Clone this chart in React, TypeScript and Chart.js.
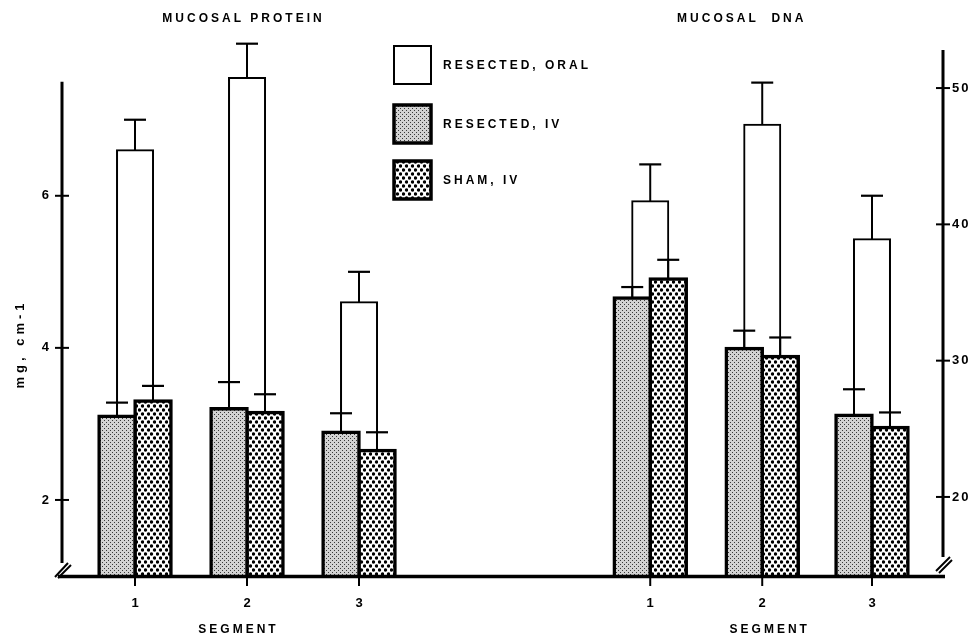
import React, { useEffect, useRef } from 'react';
import { Chart, registerables } from 'chart.js';

Chart.register(...registerables);

// ---------- data ----------
const SEGMENTS = ['1', '2', '3'];
const PROTEIN_POS = [1, 2, 3];
const DNA_POS = [5.6, 6.6, 7.58];

const SERIES_LABELS = ['RESECTED, ORAL', 'RESECTED, IV', 'SHAM, IV'];
const PANEL_TITLES = ['MUCOSAL PROTEIN', 'MUCOSAL  DNA'];
const X_TITLE = 'SEGMENT';
const Y_TITLE = 'mg, cm-1';

const PROTEIN_ORAL = [6.6, 7.55, 4.6];
const PROTEIN_ORAL_SEM = [0.4, 0.45, 0.4];
const PROTEIN_IV = [3.1, 3.2, 2.89];
const PROTEIN_IV_SEM = [0.18, 0.35, 0.25];
const PROTEIN_SHAM = [3.3, 3.15, 2.65];
const PROTEIN_SHAM_SEM = [0.2, 0.24, 0.24];

const DNA_ORAL = [41.7, 47.3, 38.9];
const DNA_ORAL_SEM = [2.7, 3.1, 3.2];
const DNA_IV = [34.6, 30.9, 26.0];
const DNA_IV_SEM = [0.8, 1.3, 1.9];
const DNA_SHAM = [36.0, 30.3, 25.1];
const DNA_SHAM_SEM = [1.4, 1.4, 1.1];

const PROTEIN_TICKS = [2, 4, 6];
const DNA_TICKS = [20, 30, 40, 50];

const PROTEIN_RANGE = [1, 8.18];
const DNA_RANGE = [14.2, 54.26];
const PROTEIN_AXIS_TOP = 7.5;
const DNA_AXIS_TOP = 52.8;

// ---------- helpers ----------
const FONT = (size: number) => `bold ${size}px "Liberation Sans", Arial, sans-serif`;

function makeFinePattern(ctx: CanvasRenderingContext2D) {
  const c = document.createElement('canvas');
  c.width = 4;
  c.height = 4;
  const g = c.getContext('2d')!;
  g.fillStyle = '#d2d2d2';
  g.fillRect(0, 0, 4, 4);
  g.fillStyle = '#383838';
  g.fillRect(0, 0, 1, 1);
  g.fillRect(2, 2, 1, 1);
  return ctx.createPattern(c, 'repeat')!;
}

function makeDotPattern(ctx: CanvasRenderingContext2D) {
  const c = document.createElement('canvas');
  c.width = 6;
  c.height = 8;
  const g = c.getContext('2d')!;
  g.fillStyle = '#ffffff';
  g.fillRect(0, 0, 6, 8);
  g.fillStyle = '#000000';
  g.beginPath();
  g.arc(1.5, 2, 1.7, 0, Math.PI * 2);
  g.fill();
  g.beginPath();
  g.arc(4.5, 6, 1.7, 0, Math.PI * 2);
  g.fill();
  return ctx.createPattern(c, 'repeat')!;
}

function drawText(
  ctx: CanvasRenderingContext2D,
  str: string,
  x: number,
  y: number,
  size: number,
  spacing: number,
  align: CanvasTextAlign
) {
  ctx.save();
  ctx.font = FONT(size);
  (ctx as any).letterSpacing = spacing + 'px';
  ctx.textAlign = align;
  ctx.textBaseline = 'middle';
  ctx.fillStyle = '#000';
  ctx.fillText(str, x + (align === 'center' ? spacing / 2 : 0), y);
  ctx.restore();
}

function line(ctx: CanvasRenderingContext2D, x1: number, y1: number, x2: number, y2: number, w: number) {
  ctx.save();
  ctx.strokeStyle = '#000';
  ctx.lineWidth = w;
  ctx.lineCap = 'butt';
  ctx.beginPath();
  ctx.moveTo(x1, y1);
  ctx.lineTo(x2, y2);
  ctx.stroke();
  ctx.restore();
}

const errorBarPlugin = {
  id: 'errorBars',
  afterDatasetsDraw(chart: any) {
    const ctx = chart.ctx as CanvasRenderingContext2D;
    chart.data.datasets.forEach((ds: any, di: number) => {
      const meta = chart.getDatasetMeta(di);
      const scale = chart.scales[ds.yAxisID];
      (ds.errors as number[]).forEach((e, i) => {
        const el = meta.data[i];
        const x = el.x;
        const yTop = el.y;
        const yCap = scale.getPixelForValue(ds.data[i].y + e);
        line(ctx, x, yTop, x, yCap, 2);
        line(ctx, x - 11, yCap, x + 11, yCap, 2.2);
      });
    });
  },
};

const decorPlugin = {
  id: 'decor',
  afterDraw(chart: any) {
    const ctx = chart.ctx as CanvasRenderingContext2D;
    const area = chart.chartArea;
    const xs = chart.scales.x;
    const yl = chart.scales.y;
    const yr = chart.scales.y2;
    const L = area.left;
    const R = area.right;
    const B = area.bottom;

    // axes
    line(ctx, L, yl.getPixelForValue(PROTEIN_AXIS_TOP), L, B - 13, 3);
    line(ctx, R, yr.getPixelForValue(DNA_AXIS_TOP), R, B - 19, 3);
    line(ctx, L - 4, B + 0.5, R + 2, B + 0.5, 3.5);
    // breaks
    line(ctx, L - 7, B + 1, L + 6, B - 13, 2);
    line(ctx, L - 4, B + 2, L + 9, B - 11, 2);
    line(ctx, R - 7, B - 5, R + 7, B - 19, 2);
    line(ctx, R - 4, B - 3, R + 9, B - 16, 2);

    // y ticks
    PROTEIN_TICKS.forEach((v) => {
      const y = yl.getPixelForValue(v);
      line(ctx, L - 7, y, L + 7, y, 2);
      drawText(ctx, String(v), L - 13, y, 13, 0, 'right');
    });
    DNA_TICKS.forEach((v) => {
      const y = yr.getPixelForValue(v);
      line(ctx, R - 7, y, R + 7, y, 2);
      drawText(ctx, String(v), R + 9, y, 13, 2, 'left');
    });

    // x ticks, segment labels, panel titles
    const groups = [PROTEIN_POS, DNA_POS];
    groups.forEach((pos, gi) => {
      pos.forEach((p, i) => {
        const x = xs.getPixelForValue(p);
        line(ctx, x, B, x, B + 10, 2);
        drawText(ctx, SEGMENTS[i], x, B + 27, 13, 0, 'center');
      });
      const mid = xs.getPixelForValue(pos[1]);
      drawText(ctx, X_TITLE, mid + (gi === 0 ? -10 : 6), B + 54, 12, 3, 'center');
      drawText(ctx, PANEL_TITLES[gi], mid + (gi === 0 ? -5 : -22), 19, 12, 3, 'center');
    });

    // y title
    ctx.save();
    ctx.translate(20, 346);
    ctx.rotate(-Math.PI / 2);
    drawText(ctx, Y_TITLE, 0, 0, 13, 4, 'center');
    ctx.restore();

    // legend
    const tops = [46, 105, 161];
    SERIES_LABELS.forEach((lab, i) => {
      const ds = chart.data.datasets[i];
      const x = 394;
      const y = tops[i];
      const w = 37;
      const h = 38;
      ctx.save();
      ctx.fillStyle = ds.backgroundColor;
      ctx.fillRect(x, y, w, h);
      ctx.lineWidth = i === 0 ? 2 : 3.5;
      ctx.strokeStyle = '#000';
      ctx.strokeRect(x, y, w, h);
      ctx.restore();
      drawText(ctx, lab, 443, y + h / 2 + 1, 12, 3, 'left');
    });
  },
};

export default function App() {
  const ref = useRef<HTMLCanvasElement>(null);

  useEffect(() => {
    const canvas = ref.current!;
    const ctx = canvas.getContext('2d')!;
    const fine = makeFinePattern(ctx);
    const dots = makeDotPattern(ctx);

    const oralStyle = {
      backgroundColor: '#ffffff',
      borderColor: '#000000',
      borderWidth: 2,
      inflateAmount: 1,
      borderSkipped: false,
      grouped: false,
      order: 2,
    };
    const ivStyle = {
      backgroundColor: fine,
      borderColor: '#000000',
      borderWidth: 3.5,
      inflateAmount: 1.75,
      borderSkipped: false,
      stack: 'iv',
      order: 1,
    };
    const shamStyle = {
      backgroundColor: dots,
      borderColor: '#000000',
      borderWidth: 3.5,
      inflateAmount: 1.75,
      borderSkipped: false,
      stack: 'sham',
      order: 1,
    };

    const mk = (label: string, pos: number[], vals: number[], errs: number[], axis: string, style: any) => ({
      label,
      data: pos.map((x, i) => ({ x, y: vals[i] })),
      errors: errs,
      yAxisID: axis,
      ...style,
    });

    const datasets: any[] = [
      mk(SERIES_LABELS[0], PROTEIN_POS, PROTEIN_ORAL, PROTEIN_ORAL_SEM, 'y', oralStyle),
      mk(SERIES_LABELS[1], PROTEIN_POS, PROTEIN_IV, PROTEIN_IV_SEM, 'y', ivStyle),
      mk(SERIES_LABELS[2], PROTEIN_POS, PROTEIN_SHAM, PROTEIN_SHAM_SEM, 'y', shamStyle),
      mk(SERIES_LABELS[0], DNA_POS, DNA_ORAL, DNA_ORAL_SEM, 'y2', oralStyle),
      mk(SERIES_LABELS[1], DNA_POS, DNA_IV, DNA_IV_SEM, 'y2', ivStyle),
      mk(SERIES_LABELS[2], DNA_POS, DNA_SHAM, DNA_SHAM_SEM, 'y2', shamStyle),
    ];

    const chart = new Chart(canvas, {
      type: 'bar',
      data: { datasets },
      options: {
        responsive: false,
        animation: false,
        devicePixelRatio: 1,
        layout: { padding: { left: 62, right: 35, top: 30, bottom: 65 } },
        datasets: { bar: { barThickness: 36 } as any },
        plugins: { legend: { display: false }, tooltip: { enabled: false }, title: { display: false } },
        events: [],
        scales: {
          x: { type: 'linear', min: 0.348, max: 8.214, display: false, offset: false, stacked: true } as any,
          y: {
            type: 'linear',
            position: 'left',
            min: PROTEIN_RANGE[0],
            max: PROTEIN_RANGE[1],
            beginAtZero: false,
            stacked: false,
            display: false,
          },
          y2: {
            type: 'linear',
            position: 'right',
            min: DNA_RANGE[0],
            max: DNA_RANGE[1],
            beginAtZero: false,
            stacked: false,
            display: false,
          },
        },
      } as any,
      plugins: [errorBarPlugin, decorPlugin],
    });
    return () => chart.destroy();
  }, []);

  return (
    <div style={{ position: 'absolute', left: 0, top: 0, width: 978, height: 641, background: '#fff' }}>
      <canvas ref={ref} width={978} height={641} style={{ display: 'block' }} />
    </div>
  );
}
